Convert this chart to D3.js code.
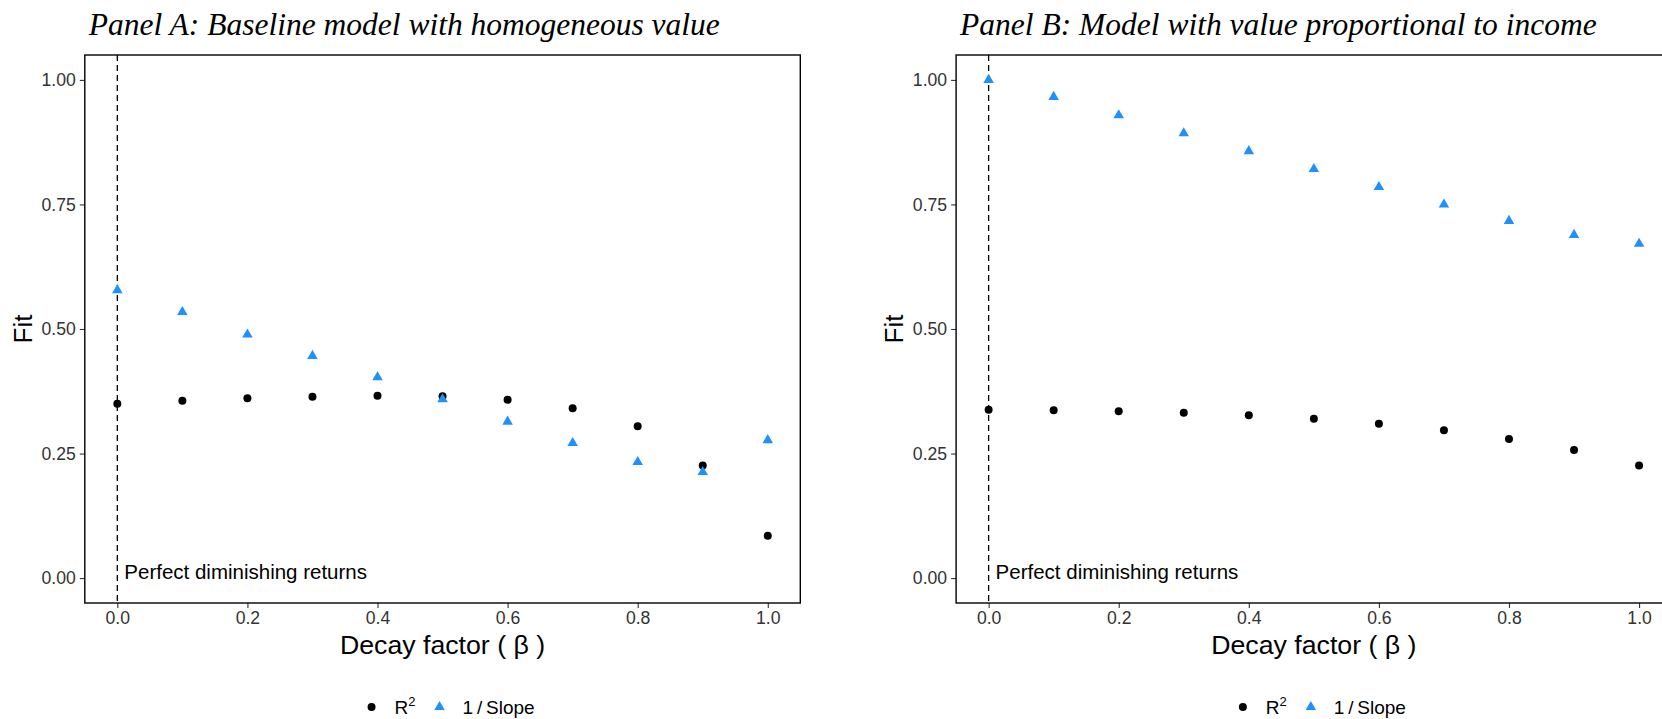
<!DOCTYPE html>
<html>
<head>
<meta charset="utf-8">
<script src="https://cdn.jsdelivr.net/npm/d3@7"></script>
<style>
  body { margin: 0; background: #fff; }
  svg text { font-family: "Liberation Sans", Arial, sans-serif; }
</style>
</head>
<body>
<div id="vis"></div>
<script>
// decay factor values shared by both panels
var betas = [0, 0.1, 0.2, 0.3, 0.4, 0.5, 0.6, 0.7, 0.8, 0.9, 1.0];

// Panel A values
var r2A = [0.350, 0.356, 0.361, 0.364, 0.366, 0.365, 0.358, 0.341, 0.305, 0.226, 0.085];
var slopeA = [0.578, 0.534, 0.489, 0.446, 0.403, 0.359, 0.314, 0.271, 0.233, 0.213, 0.277];

// Panel B values
var r2B = [0.338, 0.337, 0.335, 0.332, 0.327, 0.320, 0.310, 0.297, 0.279, 0.257, 0.226];
var slopeB = [1.000, 0.966, 0.929, 0.893, 0.857, 0.821, 0.785, 0.750, 0.717, 0.689, 0.671];

var xTicks = [0, 0.2, 0.4, 0.6, 0.8, 1.0];
var yTicks = [0, 0.25, 0.5, 0.75, 1.0];

var titles = ["Panel A: Baseline model with homogeneous value",
              "Panel B: Model with value proportional to income"];

var width = 1662, height = 719;

var svg = d3.select("#vis")
    .append("svg")
    .attr("width", width)
    .attr("height", height);

// panel box size (same for both, the second one runs off the right edge)
var pw = 715.5, ph = 548;

var x = d3.scaleLinear().domain([-0.05, 1.05]).range([0, pw]);
var y = d3.scaleLinear().domain([-0.05, 1.05]).range([ph, 0]);

function drawPanel(left, title, r2, slope) {
  var top = 55;
  var g = svg.append("g").attr("transform", "translate(" + left + "," + top + ")");

  // title
  svg.append("text")
      .attr("x", left + 4)
      .attr("y", 35)
      .style("font-family", "'Liberation Serif', 'Times New Roman', serif")
      .style("font-style", "italic")
      .style("font-size", "31.5px")
      .attr("fill", "#000")
      .text(title);

  // vertical dashed line at beta = 0
  g.append("line")
      .attr("x1", x(0)).attr("x2", x(0))
      .attr("y1", 0).attr("y2", ph)
      .attr("stroke", "#000")
      .attr("stroke-width", 1.3)
      .attr("stroke-dasharray", "6,4");

  g.append("text")
      .attr("x", x(0) + 7)
      .attr("y", y(0) + 1)
      .style("font-size", "20.5px")
      .attr("fill", "#000")
      .text("Perfect diminishing returns");

  // axes
  var xAxis = g.append("g")
      .attr("transform", "translate(0," + ph + ")")
      .call(d3.axisBottom(x).tickValues(xTicks).tickFormat(d3.format(".1f")).tickSizeOuter(0).tickSize(5).tickPadding(4));
  var yAxis = g.append("g")
      .call(d3.axisLeft(y).tickValues(yTicks).tickFormat(d3.format(".2f")).tickSizeOuter(0).tickSize(5).tickPadding(4));

  [xAxis, yAxis].forEach(function(a) {
    a.select(".domain").remove();
    a.selectAll(".tick line").attr("stroke", "#333").attr("stroke-width", 1.1);
    a.selectAll(".tick text")
        .attr("fill", "#333")
        .style("font-size", "17.6px")
        .style("font-family", "'Liberation Sans', Arial, sans-serif");
  });

  // panel border
  g.append("rect")
      .attr("x", 0).attr("y", 0)
      .attr("width", pw).attr("height", ph)
      .attr("fill", "none")
      .attr("stroke", "#000")
      .attr("stroke-width", 1.4);

  // points
  g.selectAll(".r2")
      .data(betas)
      .enter()
      .append("circle")
      .attr("class", "r2")
      .attr("cx", function(d) { return x(d); })
      .attr("cy", function(d, i) { return y(r2[i]); })
      .attr("r", 4)
      .attr("fill", "#000");

  g.selectAll(".slope")
      .data(betas)
      .enter()
      .append("path")
      .attr("class", "slope")
      .attr("d", d3.symbol().type(d3.symbolTriangle).size(48))
      .attr("transform", function(d, i) { return "translate(" + x(d) + "," + y(slope[i]) + ")"; })
      .attr("fill", "#1E90FF");

  // axis titles
  svg.append("text")
      .attr("x", left + pw / 2)
      .attr("y", top + ph + 51)
      .attr("text-anchor", "middle")
      .style("font-size", "26.7px")
      .attr("fill", "#000")
      .text("Decay factor ( \u03B2 )");

  svg.append("text")
      .attr("transform", "translate(" + (left - 53) + "," + (top + y(0.5)) + ") rotate(-90)")
      .attr("text-anchor", "middle")
      .style("font-size", "26px")
      .attr("fill", "#000")
      .text("Fit");

  // legend
  var lg = svg.append("g").attr("transform", "translate(" + (left + pw / 2 - 71) + ",707)");
  lg.append("circle").attr("cx", 0).attr("cy", 0).attr("r", 4).attr("fill", "#000");
  var rt = lg.append("text").attr("x", 23).attr("y", 6.5).style("font-size", "19px").attr("fill", "#000");
  rt.append("tspan").text("R");
  rt.append("tspan").attr("dy", -8).style("font-size", "13px").text("2");
  lg.append("path")
      .attr("d", d3.symbol().type(d3.symbolTriangle).size(48))
      .attr("transform", "translate(68,0)")
      .attr("fill", "#1E90FF");
  lg.append("text").attr("x", 91).attr("y", 6.5).style("font-size", "19px").attr("fill", "#000")
      .text("1\u2009/\u2009Slope");
}

drawPanel(84.8, titles[0], r2A, slopeA);
drawPanel(956.1, titles[1], r2B, slopeB);
</script>
</body>
</html>
